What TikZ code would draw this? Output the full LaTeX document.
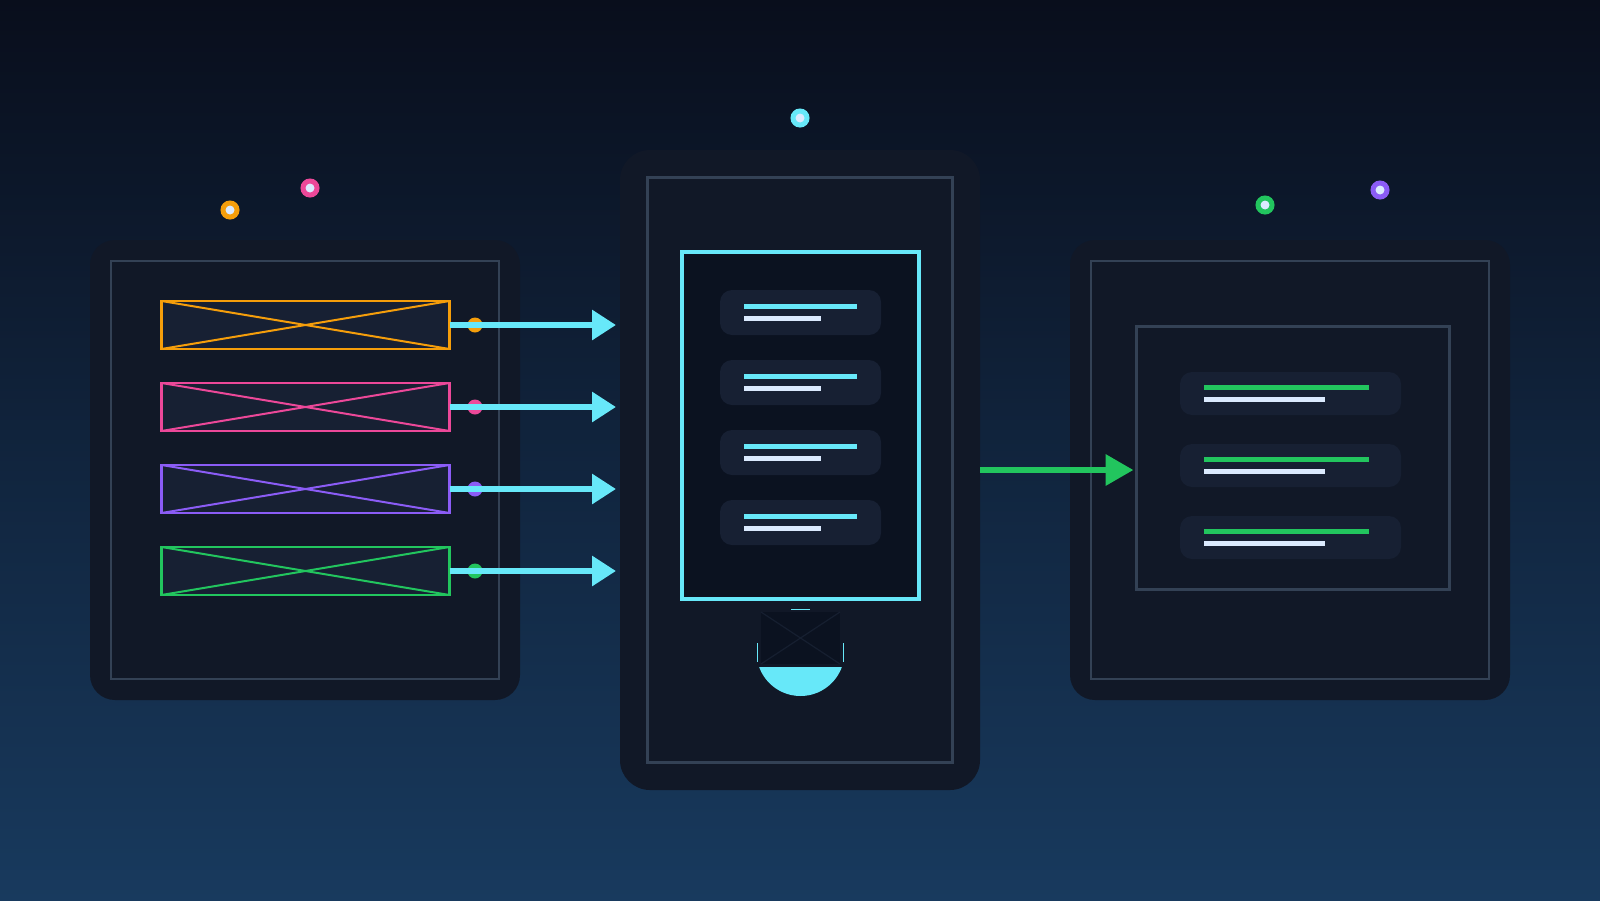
\documentclass[tikz,border=0pt]{standalone}
\usepackage{xcolor}
\usepackage{tikz}
\usetikzlibrary{positioning,arrows.meta,calc}
\definecolor{bgtop}{HTML}{090E1C}
\definecolor{bgbot}{HTML}{183A5E}
\definecolor{panelfill}{HTML}{111827}
\definecolor{frameline}{HTML}{334155}
\definecolor{cardfill}{HTML}{172033}
\definecolor{screenfill}{HTML}{0B1220}
\definecolor{faintx}{HTML}{161F30}
\definecolor{accorange}{HTML}{F59E0B}
\definecolor{accpink}{HTML}{EC4899}
\definecolor{accviolet}{HTML}{8B5CF6}
\definecolor{accgreen}{HTML}{22C55E}
\definecolor{acccyan}{HTML}{67E8F9}
\definecolor{paleline}{HTML}{DBEAFE}

\begin{document}
\begin{tikzpicture}[
    x=1pt, y=-1pt,
    panel/.style={fill=panelfill, rounded corners=25pt, inner sep=0pt, outer sep=0pt},
    frame/.style={draw=frameline, line width=2.5pt, inner sep=0pt, outer sep=0pt},
    source/.style={draw=#1, fill=cardfill, line width=2.8pt, minimum width=288pt, minimum height=48pt, inner sep=0pt, outer sep=0pt},
    cross/.style={draw=#1, line width=2pt},
    tap/.style={circle, fill=#1, minimum size=15pt, inner sep=0pt, outer sep=0pt},
    glow/.style={circle, draw=#1, fill=paleline, line width=5pt, minimum size=14pt, inner sep=0pt},
    card/.style={fill=cardfill, rounded corners=12pt, inner sep=0pt, outer sep=0pt},
    bar/.style={draw=#1, line width=5pt},
    feed/.style={draw=acccyan, line width=6pt, -{Triangle[length=24pt, width=29pt]}},
    result/.style={draw=accgreen, line width=6.5pt, -{Triangle[length=28pt, width=30pt]}},
    node distance=34pt,
  ]
  \useasboundingbox (0,0) rectangle (1600,900);
  \shade[top color=bgtop, bottom color=bgbot] (0,0) rectangle (1600,900);

  % Panels
  \node[panel, minimum width=430pt, minimum height=460pt] (srcpanel) at (305,470) {};
  \node[panel, rounded corners=30pt, minimum width=360pt, minimum height=640pt] (hub) at (800,470) {};
  \node[panel, minimum width=440pt, minimum height=460pt] (outpanel) at (1290,470) {};
  \node[frame, minimum width=388pt, minimum height=418pt] (srcframe) at (srcpanel.center) {};
  \node[frame, minimum width=305pt, minimum height=585pt] (hubframe) at (hub.center) {};
  \node[frame, minimum width=398pt, minimum height=418pt] (outframe) at (outpanel.center) {};
  \node[frame, minimum width=313pt, minimum height=263pt] (outbox) at (1293,458) {};

  % Floating dots
  \node[glow=accorange] (g1) at (230,210) {};
  \node[glow=accpink] (g2) at (310,188) {};
  \node[glow=acccyan] (g3) at (800,118) {};
  \node[glow=accgreen] (g4) at (1265,205) {};
  \node[glow=accviolet] (g5) at (1380,190) {};

  % Sources
  \node[source=accorange] (src1) at (305.5,325) {};
  \node[source=accpink, below=of src1] (src2) {};
  \node[source=accviolet, below=of src2] (src3) {};
  \node[source=accgreen, below=of src3] (src4) {};
  \draw[cross=accorange] (src1.north west) -- (src1.south east) (src1.south west) -- (src1.north east);
  \draw[cross=accpink] (src2.north west) -- (src2.south east) (src2.south west) -- (src2.north east);
  \draw[cross=accviolet] (src3.north west) -- (src3.south east) (src3.south west) -- (src3.north east);
  \draw[cross=accgreen] (src4.north west) -- (src4.south east) (src4.south west) -- (src4.north east);
  \node[tap=accorange, right=18pt of src1] (tap1) {};
  \node[tap=accpink, right=18pt of src2] (tap2) {};
  \node[tap=accviolet, right=18pt of src3] (tap3) {};
  \node[tap=accgreen, right=18pt of src4] (tap4) {};

  % Screen
  \node[draw=acccyan, fill=screenfill, line width=3.5pt, minimum width=237pt, minimum height=347pt, inner sep=0pt, outer sep=0pt] (screen) at (800.5,425.5) {};
  \node[card, minimum width=161pt, minimum height=45pt] (msg1) at (800.5,312.5) {};
  \node[card, minimum width=161pt, minimum height=45pt, below=25pt of msg1] (msg2) {};
  \node[card, minimum width=161pt, minimum height=45pt, below=25pt of msg2] (msg3) {};
  \node[card, minimum width=161pt, minimum height=45pt, below=25pt of msg3] (msg4) {};
  \foreach \i in {1,...,4} {
    \draw[bar=acccyan] ($(msg\i.west)+(24,-6)$) -- ++(113,0);
    \draw[bar=paleline] ($(msg\i.west)+(24,6)$) -- ++(77,0);
  }

  % Camera
  \node[fill=screenfill, minimum width=79pt, minimum height=52pt, inner sep=0pt, outer sep=0pt] (cam) at (800.5,638) {};
  \draw[faintx, line width=1.2pt] (cam.north west) -- (cam.south east) (cam.south west) -- (cam.north east);
  \draw[acccyan, line width=0.8pt] ($(cam.north)+(-9.5,-3)$) -- ++(19,0);
  \draw[acccyan, line width=0.8pt] ($(cam.west)+(-4,5)$) -- ++(0,19);
  \draw[acccyan, line width=0.8pt] ($(cam.east)+(3,5)$) -- ++(0,19);
  \begin{scope}
    \clip ($(cam.south)+(-50,3)$) rectangle ++(100,40);
    \fill[acccyan] ($(cam.south)+(0,-12)$) circle[radius=44pt];
  \end{scope}

  % Output
  \node[card, minimum width=221pt, minimum height=43pt] (out1) at (1290.5,393.5) {};
  \node[card, minimum width=221pt, minimum height=43pt, below=29pt of out1] (out2) {};
  \node[card, minimum width=221pt, minimum height=43pt, below=29pt of out2] (out3) {};
  \foreach \i in {1,...,3} {
    \draw[bar=accgreen] ($(out\i.west)+(24,-6)$) -- ++(165,0);
    \draw[bar=paleline] ($(out\i.west)+(24,6)$) -- ++(121,0);
  }

  % Arrows
  \draw[feed, shorten >=4pt] (src1.east) -- (src1.east -| hub.west);
  \draw[feed, shorten >=4pt] (src2.east) -- (src2.east -| hub.west);
  \draw[feed, shorten >=4pt] (src3.east) -- (src3.east -| hub.west);
  \draw[feed, shorten >=4pt] (src4.east) -- (src4.east -| hub.west);
  \draw[result, shorten >=3pt] (hub.east) -- (hub.east -| outbox.west);
\end{tikzpicture}
\end{document}
